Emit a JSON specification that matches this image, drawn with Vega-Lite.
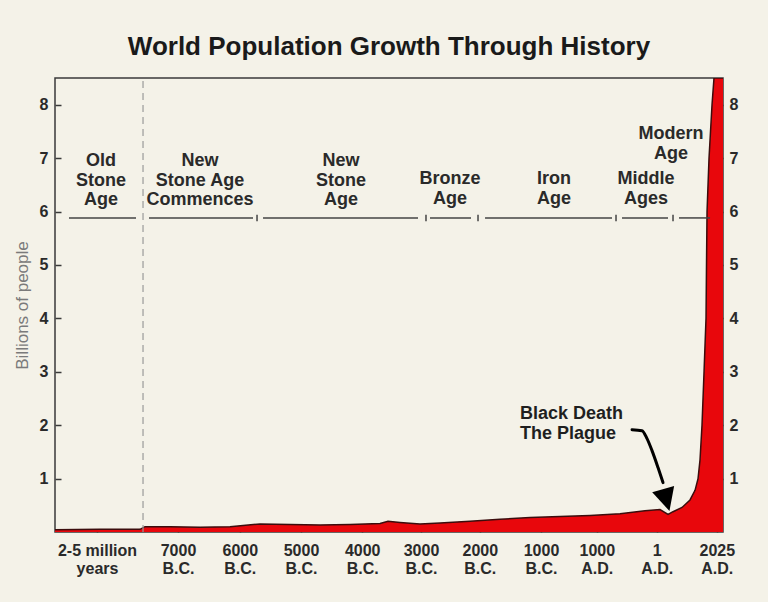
{
  "$schema": "https://vega.github.io/schema/vega-lite/v6.json",
  "width": 668,
  "height": 454,
  "autosize": {"type": "none"},
  "padding": {"left": 55, "top": 78, "right": 45, "bottom": 70},
  "background": "#f4f2e8",
  "title": {
    "text": "World Population Growth Through History",
    "font": "Liberation Sans",
    "fontSize": 26,
    "fontWeight": "bold",
    "color": "#1a1a1a",
    "anchor": "middle",
    "offset": 17
  },
  "config": {
    "font": "Liberation Sans",
    "view": {"stroke": "#3a3a3a", "strokeWidth": 1.5},
    "axis": {
      "grid": false,
      "domain": false,
      "labelFont": "Liberation Sans",
      "labelFontWeight": "bold",
      "labelFontSize": 16,
      "labelColor": "#2a2a2a",
      "tickColor": "#3a3a3a",
      "tickWidth": 1.5
    }
  },
  "datasets": {
    "pop": [
      {"u": 0, "v": 0.04},
      {"u": 0.75, "v": 0.05},
      {"u": 1.417, "v": 0.05},
      {"u": 1.5, "v": 0.1},
      {"u": 1.917, "v": 0.1},
      {"u": 2.417, "v": 0.09},
      {"u": 2.917, "v": 0.1},
      {"u": 3.417, "v": 0.15},
      {"u": 3.917, "v": 0.14},
      {"u": 4.417, "v": 0.13},
      {"u": 4.917, "v": 0.14},
      {"u": 5.417, "v": 0.16},
      {"u": 5.55, "v": 0.2},
      {"u": 5.75, "v": 0.18},
      {"u": 6.083, "v": 0.15},
      {"u": 6.417, "v": 0.17},
      {"u": 6.917, "v": 0.2},
      {"u": 7.417, "v": 0.24},
      {"u": 7.917, "v": 0.27},
      {"u": 8.417, "v": 0.29},
      {"u": 8.917, "v": 0.31},
      {"u": 9.417, "v": 0.34},
      {"u": 9.833, "v": 0.4},
      {"u": 10.083, "v": 0.42},
      {"u": 10.217, "v": 0.33},
      {"u": 10.3, "v": 0.38},
      {"u": 10.45, "v": 0.46},
      {"u": 10.583, "v": 0.6},
      {"u": 10.667, "v": 0.78},
      {"u": 10.717, "v": 1.0},
      {"u": 10.75, "v": 1.35},
      {"u": 10.783, "v": 2.0},
      {"u": 10.817, "v": 3.0},
      {"u": 10.85, "v": 4.0},
      {"u": 10.858, "v": 5.0},
      {"u": 10.867, "v": 6.0},
      {"u": 10.9, "v": 7.0},
      {"u": 10.95, "v": 8.0},
      {"u": 10.983, "v": 8.5},
      {"u": 11.133, "v": 8.5}
    ],
    "eras": [
      {"u": 0.233, "u2": 1.35, "v": 5.88},
      {"u": 1.567, "u2": 3.3, "v": 5.88},
      {"u": 3.467, "u2": 6.05, "v": 5.88},
      {"u": 6.25, "u2": 6.933, "v": 5.88},
      {"u": 7.167, "u2": 9.283, "v": 5.88},
      {"u": 9.45, "u2": 10.217, "v": 5.88},
      {"u": 10.4, "u2": 10.917, "v": 5.88}
    ],
    "seps": [
      {"u": 3.367, "v": 5.82, "v2": 5.94},
      {"u": 6.183, "v": 5.82, "v2": 5.94},
      {"u": 7.05, "v": 5.82, "v2": 5.94},
      {"u": 9.35, "v": 5.82, "v2": 5.94},
      {"u": 10.3, "v": 5.82, "v2": 5.94}
    ],
    "labels": [
      {"u": 0.767, "v": 6.944, "t": "Old|Stone|Age"},
      {"u": 2.417, "v": 6.944, "t": "New|Stone Age|Commences"},
      {"u": 4.767, "v": 6.944, "t": "New|Stone|Age"},
      {"u": 6.583, "v": 6.607, "t": "Bronze|Age"},
      {"u": 8.317, "v": 6.607, "t": "Iron|Age"},
      {"u": 9.85, "v": 6.607, "t": "Middle|Ages"},
      {"u": 10.267, "v": 7.449, "t": "Modern|Age"}
    ],
    "arrow": [
      {"u": 9.617, "v": 1.916},
      {"u": 9.783, "v": 1.897},
      {"u": 9.867, "v": 1.748},
      {"u": 9.95, "v": 1.523},
      {"u": 10.05, "v": 1.206},
      {"u": 10.133, "v": 0.925}
    ],
    "head": [{"u": 10.183, "v": 0.619}],
    "note": [{"u": 7.75, "v": 2.215, "t": "Black Death|The Plague"}],
    "dash": [{"u": 1.467, "v": 0, "v2": 8.5}]
  },
  "resolve": {"axis": {"y": "independent"}},
  "layer": [
    {
      "data": {"name": "pop"},
      "mark": {"type": "area", "color": "#e8070c", "clip": true},
      "encoding": {
        "x": {
          "field": "u",
          "type": "quantitative",
          "scale": {"domain": [0, 11.133], "nice": false, "zero": false},
          "axis": {
            "title": null,
            "values": [0.7, 2.05, 3.08, 4.1, 5.12, 6.1, 7.08, 8.1, 9.03, 10.03, 11.03],
            "labelExpr": "datum.value < 1 ? ['2-5 million','years'] : datum.value < 2.5 ? ['7000','B.C.'] : datum.value < 3.5 ? ['6000','B.C.'] : datum.value < 4.5 ? ['5000','B.C.'] : datum.value < 5.5 ? ['4000','B.C.'] : datum.value < 6.5 ? ['3000','B.C.'] : datum.value < 7.5 ? ['2000','B.C.'] : datum.value < 8.5 ? ['1000','B.C.'] : datum.value < 9.5 ? ['1000','A.D.'] : datum.value < 10.5 ? ['1','A.D.'] : ['2025','A.D.']",
            "labelOverlap": false,
            "labelBound": false,
            "labelFlush": false,
            "labelLineHeight": 18,
            "labelPadding": 13,
            "tickSize": -3
          }
        },
        "y": {
          "field": "v",
          "type": "quantitative",
          "scale": {"domain": [0, 8.5], "nice": false},
          "axis": {
            "title": "Billions of people",
            "titleFont": "Liberation Sans",
            "titleFontWeight": "normal",
            "titleFontSize": 17,
            "titleColor": "#7a7a7a",
            "titlePadding": 8,
            "values": [1, 2, 3, 4, 5, 6, 7, 8],
            "tickSize": -6,
            "labelPadding": 13
          }
        }
      }
    },
    {
      "data": {"name": "pop"},
      "mark": {"type": "line", "color": "#3b0d0d", "strokeWidth": 1.5, "clip": true},
      "encoding": {
        "x": {"field": "u", "type": "quantitative"},
        "y": {
          "field": "v",
          "type": "quantitative",
          "axis": {
            "orient": "right",
            "title": null,
            "values": [1, 2, 3, 4, 5, 6, 7, 8],
            "tickSize": -3,
            "labelPadding": 9
          }
        }
      }
    },
    {
      "data": {"name": "dash"},
      "mark": {"type": "rule", "color": "#9a9a9a", "strokeWidth": 1.2, "strokeDash": [7, 5]},
      "encoding": {
        "x": {"field": "u", "type": "quantitative"},
        "y": {"field": "v", "type": "quantitative", "axis": null},
        "y2": {"field": "v2"}
      }
    },
    {
      "data": {"name": "eras"},
      "mark": {"type": "rule", "color": "#444444", "strokeWidth": 1.5},
      "encoding": {
        "x": {"field": "u", "type": "quantitative"},
        "x2": {"field": "u2"},
        "y": {"field": "v", "type": "quantitative", "axis": null}
      }
    },
    {
      "data": {"name": "seps"},
      "mark": {"type": "rule", "color": "#444444", "strokeWidth": 1.5},
      "encoding": {
        "x": {"field": "u", "type": "quantitative"},
        "y": {"field": "v", "type": "quantitative", "axis": null},
        "y2": {"field": "v2"}
      }
    },
    {
      "data": {"name": "labels"},
      "mark": {
        "type": "text",
        "font": "Liberation Sans",
        "fontWeight": "bold",
        "fontSize": 18,
        "color": "#2a2a2a",
        "align": "center",
        "baseline": "middle",
        "lineBreak": "|",
        "lineHeight": 19.5
      },
      "encoding": {
        "x": {"field": "u", "type": "quantitative"},
        "y": {"field": "v", "type": "quantitative", "axis": null},
        "text": {"field": "t"}
      }
    },
    {
      "data": {"name": "note"},
      "mark": {
        "type": "text",
        "font": "Liberation Sans",
        "fontWeight": "bold",
        "fontSize": 18,
        "color": "#1f1f1f",
        "align": "left",
        "baseline": "middle",
        "lineBreak": "|",
        "lineHeight": 20
      },
      "encoding": {
        "x": {"field": "u", "type": "quantitative"},
        "y": {"field": "v", "type": "quantitative", "axis": null},
        "text": {"field": "t"}
      }
    },
    {
      "data": {"name": "arrow"},
      "mark": {"type": "line", "color": "#000000", "strokeWidth": 3, "interpolate": "monotone", "strokeCap": "round"},
      "encoding": {
        "x": {"field": "u", "type": "quantitative"},
        "y": {"field": "v", "type": "quantitative", "axis": null}
      }
    },
    {
      "data": {"name": "head"},
      "mark": {
        "type": "point",
        "shape": "M-1,-0.9L1,-0.9L0,1.1Z",
        "filled": true,
        "color": "#000000",
        "opacity": 1,
        "size": 520,
        "angle": 344
      },
      "encoding": {
        "x": {"field": "u", "type": "quantitative"},
        "y": {"field": "v", "type": "quantitative", "axis": null}
      }
    }
  ]
}
